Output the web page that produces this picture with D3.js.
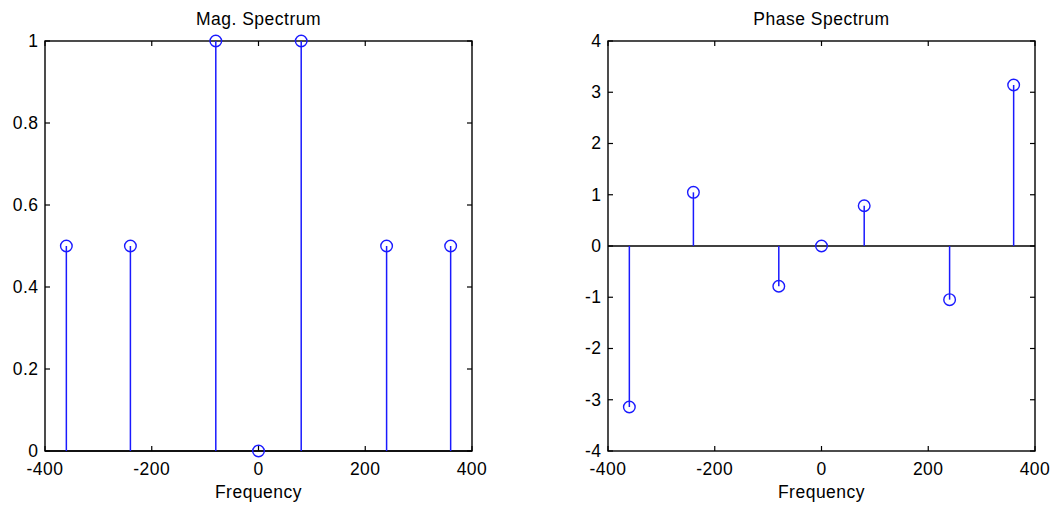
<!DOCTYPE html>
<html>
<head>
<meta charset="utf-8">
<script src="https://cdn.jsdelivr.net/npm/d3@7"></script>
<style>
  html, body { margin: 0; padding: 0; background: #fff; }
  svg { display: block; }
  text { font-family: "Liberation Sans", Arial, sans-serif; fill: #000; letter-spacing: 0.5px; }
</style>
</head>
<body>
<svg id="chart" width="1054" height="507"></svg>
<script>
// ---- data ----
const frequencies = [-360, -240, -80, 0, 80, 240, 360];
const magnitude = [0.5, 0.5, 1, 0, 1, 0.5, 0.5];
const phase = [-3.1416, 1.0472, -0.7854, 0, 0.7854, -1.0472, 3.1416];
const xTicks = [-400, -200, 0, 200, 400];
const magTicks = [0, 0.2, 0.4, 0.6, 0.8, 1];
const phaseTicks = [-4, -3, -2, -1, 0, 1, 2, 3, 4];

const svg = d3.select("#chart");
const FS = 17.5;
const BLUE = "#1a1aff";

function panel(opts) {
  const { left, right, top, bottom, yDomain, yTicks, values, title, yFmt } = opts;
  const x = d3.scaleLinear().domain([-400, 400]).range([left, right]);
  const y = d3.scaleLinear().domain(yDomain).range([bottom, top]);
  const g = svg.append("g");
  const tl = 5;

  // ticks inside on all four sides
  const tg = g.append("g").attr("stroke", "#000").attr("stroke-width", 1.2);
  xTicks.forEach(t => {
    tg.append("line").attr("x1", x(t)).attr("x2", x(t)).attr("y1", bottom).attr("y2", bottom - tl);
    tg.append("line").attr("x1", x(t)).attr("x2", x(t)).attr("y1", top).attr("y2", top + tl);
  });
  yTicks.forEach(t => {
    tg.append("line").attr("x1", left).attr("x2", left + tl).attr("y1", y(t)).attr("y2", y(t));
    tg.append("line").attr("x1", right).attr("x2", right - tl).attr("y1", y(t)).attr("y2", y(t));
  });

  // tick labels
  xTicks.forEach(t => {
    g.append("text").attr("x", x(t)).attr("y", bottom + 23.5)
      .attr("text-anchor", "middle").attr("font-size", FS).text(t);
  });
  yTicks.forEach(t => {
    g.append("text").attr("x", left - 6.5).attr("y", y(t)).attr("dy", "0.34em")
      .attr("text-anchor", "end").attr("font-size", FS).text(yFmt(t));
  });

  // baseline at y=0
  g.append("line").attr("x1", left).attr("x2", right)
    .attr("y1", y(0)).attr("y2", y(0)).attr("stroke", "#000").attr("stroke-width", 1.3);

  // box
  g.append("rect").attr("x", left).attr("y", top)
    .attr("width", right - left).attr("height", bottom - top)
    .attr("fill", "none").attr("stroke", "#000").attr("stroke-width", 1.4);

  // stems
  g.selectAll(".stem").data(frequencies).enter().append("line")
    .attr("x1", d => x(d)).attr("x2", d => x(d))
    .attr("y1", y(0)).attr("y2", (d, i) => y(values[i]))
    .attr("stroke", BLUE).attr("stroke-width", 1.5);

  // markers
  g.selectAll(".mk").data(frequencies).enter().append("circle")
    .attr("cx", d => x(d)).attr("cy", (d, i) => y(values[i]))
    .attr("r", 5.8).attr("fill", "none").attr("stroke", BLUE).attr("stroke-width", 1.4);

  // title & xlabel
  g.append("text").attr("x", (left + right) / 2).attr("y", 25)
    .attr("text-anchor", "middle").attr("font-size", FS).text(title);
  g.append("text").attr("x", (left + right) / 2).attr("y", 498)
    .attr("text-anchor", "middle").attr("font-size", FS).text("Frequency");
}

panel({
  left: 45, right: 472, top: 41, bottom: 451,
  yDomain: [0, 1], yTicks: magTicks, values: magnitude,
  title: "Mag. Spectrum", yFmt: d => String(d)
});
panel({
  left: 608, right: 1035, top: 41, bottom: 451,
  yDomain: [-4, 4], yTicks: phaseTicks, values: phase,
  title: "Phase Spectrum", yFmt: d => String(d)
});
</script>
</body>
</html>
